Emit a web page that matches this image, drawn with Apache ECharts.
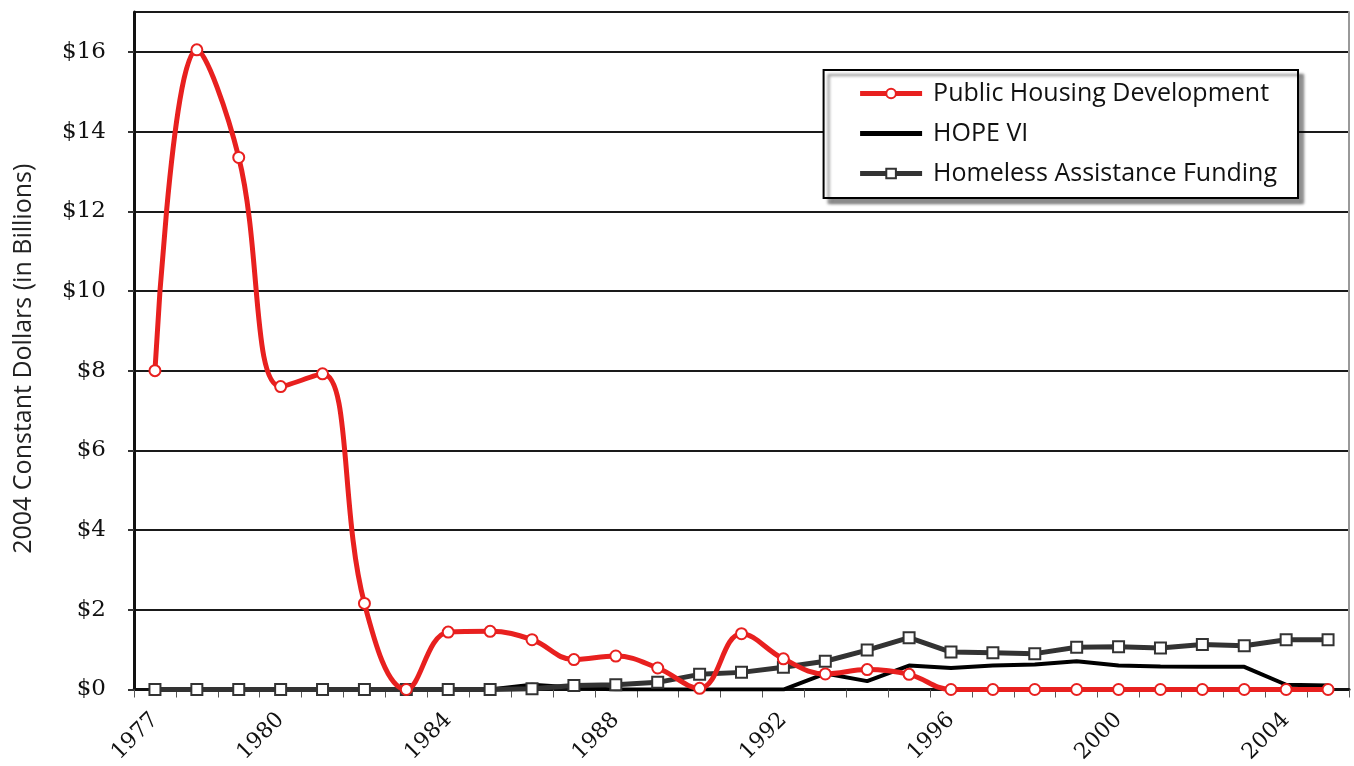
<!DOCTYPE html>
<html>
<head>
<meta charset="utf-8">
<script src="https://cdn.jsdelivr.net/npm/echarts@6/dist/echarts.min.js"></script>
<style>
  html, body { margin: 0; padding: 0; background: #fff; }
  #chart { width: 1354px; height: 766px; }
</style>
</head>
<body>
<div id="chart"></div>
<script>
// years 1977 - 2005
const years = [];
for (let y = 1977; y <= 2005; y++) years.push(String(y));

// values, billions of 2004 dollars
const publicHousing = [8.0, 16.05, 13.35, 7.6, 7.92, 2.16, 0, 1.44, 1.46, 1.25,
  0.75, 0.84, 0.54, 0.03, 1.40, 0.77, 0.39, 0.50, 0.38, 0,
  0, 0, 0, 0, 0, 0, 0, 0, 0];
const hopeVI = [0, 0, 0, 0, 0, 0, 0, 0, 0, 0.12,
  0.05, 0, 0, 0, 0, 0, 0.40, 0.21, 0.60, 0.54,
  0.60, 0.63, 0.71, 0.60, 0.58, 0.57, 0.57, 0.12, 0.10];
const homeless = [0, 0, 0, 0, 0, 0, 0, 0, 0, 0.02,
  0.10, 0.12, 0.18, 0.38, 0.43, 0.56, 0.71, 0.99, 1.30, 0.94,
  0.92, 0.90, 1.06, 1.07, 1.04, 1.13, 1.10, 1.25, 1.25];

const labelFont = "'DejaVu Serif', serif";
const textFont = "'Open Sans', Lato, sans-serif";

let myChart = echarts.init(document.getElementById("chart"));

let options = {
  backgroundColor: "#fff",
  animation: false,
  grid: { left: 134, right: 5, top: 12, bottom: 76 },
  legend: {
    orient: "vertical",
    right: 56,
    top: 70,
    padding: [11, 21, 12, 34],
    itemGap: 15,
    itemWidth: 62,
    itemHeight: 12,
    backgroundColor: "#fff",
    borderColor: "#000",
    borderWidth: 2,
    shadowColor: "rgba(0,0,0,0.45)",
    shadowBlur: 3,
    shadowOffsetX: 5,
    shadowOffsetY: 5,
    lineStyle: { width: 5 },
    textStyle: { fontFamily: textFont, fontSize: 25, color: "#111", padding: [0, 0, 0, 6] },
    data: [
      { name: "Public Housing Development" },
      { name: "HOPE VI", icon: "path://M0,0H62V5H0Z" },
      { name: "Homeless Assistance Funding" },
    ],
  },
  xAxis: [
    {
      type: "category",
      data: years,
      boundaryGap: true,
      axisLine: { lineStyle: { color: "#222", width: 2 } },
      axisTick: { show: true, interval: 0, length: 8, lineStyle: { color: "#555", width: 1 } },
      axisLabel: {
        interval: (i, v) => v === "1977" || Number(v) % 4 === 0,
        rotate: 45,
        margin: 27,
        fontFamily: labelFont,
        fontSize: 22,
        color: "#111",
      },
      splitLine: { show: false },
    },
    {
      type: "category",
      data: years,
      position: "top",
      axisLine: { lineStyle: { color: "#111", width: 3 } },
      axisTick: { show: false },
      axisLabel: { show: false },
    },
  ],
  yAxis: [
    {
      type: "value",
      min: 0,
      max: 17,
      interval: 2,
      name: "2004 Constant Dollars (in Billions)",
      nameLocation: "middle",
      nameGap: 98,
      nameTextStyle: { fontFamily: textFont, fontSize: 25, color: "#222", padding: [0, 16, 0, 0] },
      axisLine: { show: true, lineStyle: { color: "#111", width: 3 } },
      axisTick: { show: true, length: 6, lineStyle: { color: "#333", width: 2 } },
      axisLabel: {
        margin: 28,
        showMaxLabel: false,
        fontFamily: labelFont,
        fontSize: 23,
        color: "#111",
        formatter: (v) => (v > 16 ? "" : "$" + v),
      },
      splitLine: { show: true, lineStyle: { color: "#1a1a1a", width: 2 } },
    },
    {
      type: "value",
      min: 0,
      max: 17,
      interval: 2,
      position: "right",
      axisLine: { show: true, lineStyle: { color: "#999", width: 2 } },
      axisTick: { show: false },
      axisLabel: { show: false },
      splitLine: { show: false },
    },
  ],
  series: [
    {
      name: "HOPE VI",
      type: "line",
      data: hopeVI,
      showSymbol: false,
      symbol: "none",
      itemStyle: { color: "#000" },
      lineStyle: { color: "#000", width: 4 },
      z: 3,
    },
    {
      name: "Homeless Assistance Funding",
      type: "line",
      data: homeless,
      symbol: "rect",
      symbolSize: 11,
      itemStyle: { color: "#fff", borderColor: "#333", borderWidth: 2 },
      lineStyle: { color: "#333", width: 5 },
      z: 4,
    },
    {
      name: "Public Housing Development",
      type: "line",
      data: publicHousing,
      smooth: 0.4,
      symbol: "circle",
      symbolSize: 11,
      itemStyle: { color: "#fff", borderColor: "#e8201f", borderWidth: 2 },
      lineStyle: { color: "#e8201f", width: 5 },
      z: 5,
    },
  ],
};

myChart.setOption(options);
</script>
</body>
</html>
